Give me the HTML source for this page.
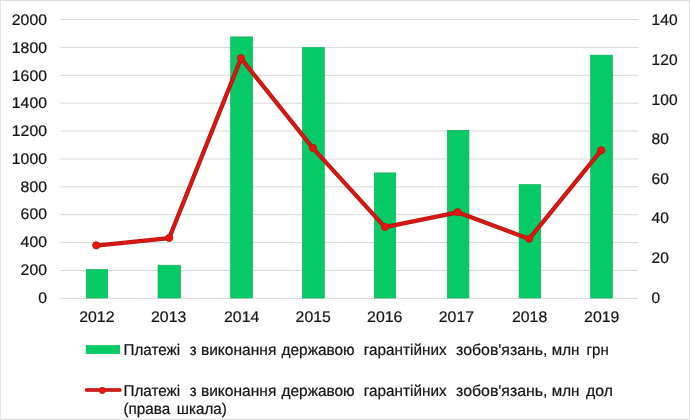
<!DOCTYPE html>
<html lang="uk"><head><meta charset="utf-8"><title>Платежі з виконання державою гарантійних зобов'язань</title>
<style>
html,body{margin:0;padding:0;background:#fff;}
body{width:690px;height:420px;overflow:hidden;position:relative;}
svg{position:absolute;left:0;top:0;display:block;}
text{font-family:"Liberation Sans",Arial,sans-serif;fill:#141414;stroke:#141414;stroke-width:0.22px;text-rendering:geometricPrecision;}
</style></head><body>
<svg width="690" height="420" viewBox="0 0 690 420">
<rect x="0" y="0" width="690" height="420" fill="#ffffff"/>
<rect x="0.5" y="0.5" width="689" height="419" fill="none" stroke="#dcdcdc" stroke-width="1"/>
<line x1="0.5" y1="1" x2="0.5" y2="419" stroke="#e6e6e6" stroke-width="1"/>

<g stroke="#d8d8d8" stroke-width="1">
<line x1="60.6" y1="298.40" x2="638.3" y2="298.40"/>
<line x1="60.6" y1="270.51" x2="638.3" y2="270.51"/>
<line x1="60.6" y1="242.62" x2="638.3" y2="242.62"/>
<line x1="60.6" y1="214.73" x2="638.3" y2="214.73"/>
<line x1="60.6" y1="186.84" x2="638.3" y2="186.84"/>
<line x1="60.6" y1="158.95" x2="638.3" y2="158.95"/>
<line x1="60.6" y1="131.06" x2="638.3" y2="131.06"/>
<line x1="60.6" y1="103.17" x2="638.3" y2="103.17"/>
<line x1="60.6" y1="75.28" x2="638.3" y2="75.28"/>
<line x1="60.6" y1="47.39" x2="638.3" y2="47.39"/>
<line x1="60.6" y1="19.50" x2="638.3" y2="19.50"/>
</g>
<g fill="#05ca66" stroke="#10a858" stroke-width="0.6">
<rect x="86.25" y="269.40" width="21.43" height="28.60"/>
<rect x="158.00" y="265.20" width="22.65" height="32.80"/>
<rect x="230.60" y="36.90" width="22.05" height="261.10"/>
<rect x="302.34" y="47.50" width="22.01" height="250.50"/>
<rect x="374.34" y="172.90" width="21.42" height="125.10"/>
<rect x="447.23" y="130.40" width="21.72" height="167.60"/>
<rect x="519.10" y="184.50" width="21.67" height="113.50"/>
<rect x="590.63" y="55.10" width="21.90" height="242.90"/>
</g>
<polyline points="96.20,245.55 169.20,238.15 241.00,58.35 312.90,148.15 384.90,227.15 457.60,212.35 529.20,238.95 601.20,150.45" fill="none" stroke="#b61612" stroke-width="4.25" stroke-linejoin="round" stroke-linecap="round"/>
<polyline points="96.20,245.55 169.20,238.15 241.00,58.35 312.90,148.15 384.90,227.15 457.60,212.35 529.20,238.95 601.20,150.45" fill="none" stroke="#d81815" stroke-width="2.6" stroke-linejoin="round" stroke-linecap="round"/>
<circle cx="96.20" cy="245.35" r="3.6" fill="#ea1411" stroke="#b8200f" stroke-width="1"/>
<circle cx="169.20" cy="237.95" r="3.6" fill="#ea1411" stroke="#b8200f" stroke-width="1"/>
<circle cx="241.00" cy="58.15" r="3.6" fill="#ea1411" stroke="#b8200f" stroke-width="1"/>
<circle cx="312.90" cy="147.95" r="3.6" fill="#ea1411" stroke="#b8200f" stroke-width="1"/>
<circle cx="384.90" cy="226.95" r="3.6" fill="#ea1411" stroke="#b8200f" stroke-width="1"/>
<circle cx="457.60" cy="212.15" r="3.6" fill="#ea1411" stroke="#b8200f" stroke-width="1"/>
<circle cx="529.20" cy="238.75" r="3.6" fill="#ea1411" stroke="#b8200f" stroke-width="1"/>
<circle cx="601.20" cy="150.25" r="3.6" fill="#ea1411" stroke="#b8200f" stroke-width="1"/>
<text x="38.17" y="302.50" font-size="15.4" textLength="8.78" lengthAdjust="spacingAndGlyphs">0</text>
<text x="20.61" y="274.78" font-size="15.4" textLength="26.34" lengthAdjust="spacingAndGlyphs">200</text>
<text x="20.61" y="247.06" font-size="15.4" textLength="26.34" lengthAdjust="spacingAndGlyphs">400</text>
<text x="20.61" y="219.34" font-size="15.4" textLength="26.34" lengthAdjust="spacingAndGlyphs">600</text>
<text x="20.61" y="191.62" font-size="15.4" textLength="26.34" lengthAdjust="spacingAndGlyphs">800</text>
<text x="11.83" y="163.90" font-size="15.4" textLength="35.12" lengthAdjust="spacingAndGlyphs">1000</text>
<text x="11.83" y="136.18" font-size="15.4" textLength="35.12" lengthAdjust="spacingAndGlyphs">1200</text>
<text x="11.83" y="108.46" font-size="15.4" textLength="35.12" lengthAdjust="spacingAndGlyphs">1400</text>
<text x="11.83" y="80.74" font-size="15.4" textLength="35.12" lengthAdjust="spacingAndGlyphs">1600</text>
<text x="11.83" y="53.02" font-size="15.4" textLength="35.12" lengthAdjust="spacingAndGlyphs">1800</text>
<text x="11.83" y="25.30" font-size="15.4" textLength="35.12" lengthAdjust="spacingAndGlyphs">2000</text>
<text x="651.60" y="302.50" font-size="15.4" textLength="8.65" lengthAdjust="spacingAndGlyphs">0</text>
<text x="651.60" y="262.91" font-size="15.4" textLength="17.30" lengthAdjust="spacingAndGlyphs">20</text>
<text x="651.60" y="223.32" font-size="15.4" textLength="17.30" lengthAdjust="spacingAndGlyphs">40</text>
<text x="651.60" y="183.73" font-size="15.4" textLength="17.30" lengthAdjust="spacingAndGlyphs">60</text>
<text x="651.60" y="144.14" font-size="15.4" textLength="17.30" lengthAdjust="spacingAndGlyphs">80</text>
<text x="651.60" y="104.55" font-size="15.4" textLength="25.95" lengthAdjust="spacingAndGlyphs">100</text>
<text x="651.60" y="64.96" font-size="15.4" textLength="25.95" lengthAdjust="spacingAndGlyphs">120</text>
<text x="651.60" y="25.37" font-size="15.4" textLength="25.95" lengthAdjust="spacingAndGlyphs">140</text>
<text x="79.20" y="322.30" font-size="15.4" textLength="35.29" lengthAdjust="spacingAndGlyphs">2012</text>
<text x="151.06" y="322.30" font-size="15.4" textLength="35.29" lengthAdjust="spacingAndGlyphs">2013</text>
<text x="224.03" y="322.30" font-size="15.4" textLength="35.29" lengthAdjust="spacingAndGlyphs">2014</text>
<text x="295.61" y="322.30" font-size="15.4" textLength="35.29" lengthAdjust="spacingAndGlyphs">2015</text>
<text x="367.11" y="322.30" font-size="15.4" textLength="35.29" lengthAdjust="spacingAndGlyphs">2016</text>
<text x="438.76" y="322.30" font-size="15.4" textLength="35.29" lengthAdjust="spacingAndGlyphs">2017</text>
<text x="511.96" y="322.30" font-size="15.4" textLength="35.29" lengthAdjust="spacingAndGlyphs">2018</text>
<text x="584.11" y="322.30" font-size="15.4" textLength="35.29" lengthAdjust="spacingAndGlyphs">2019</text>
<rect x="85.8" y="345.1" width="34.2" height="8.8" fill="#05ca66"/>
<text y="355.0" font-size="15.6"><tspan x="123.53" textLength="56.67" lengthAdjust="spacingAndGlyphs">Платежі</tspan> <tspan x="189.65" textLength="6.82" lengthAdjust="spacingAndGlyphs">з</tspan> <tspan x="200.92" textLength="75.42" lengthAdjust="spacingAndGlyphs">виконання</tspan> <tspan x="281.55" textLength="73.02" lengthAdjust="spacingAndGlyphs">державою</tspan> <tspan x="363.83" textLength="82.77" lengthAdjust="spacingAndGlyphs">гарантійних</tspan> <tspan x="456.13" textLength="91.31" lengthAdjust="spacingAndGlyphs">зобов'язань,</tspan> <tspan x="551.84" textLength="27.65" lengthAdjust="spacingAndGlyphs">млн</tspan> <tspan x="586.55" textLength="22.14" lengthAdjust="spacingAndGlyphs">грн</tspan></text>
<line x1="86.6" y1="390.0" x2="119.9" y2="390.0" stroke="#b61612" stroke-width="3.7" stroke-linecap="round"/>
<line x1="86.6" y1="390.0" x2="119.9" y2="390.0" stroke="#d81815" stroke-width="2.3" stroke-linecap="round"/>
<circle cx="102.3" cy="390.4" r="3.1" fill="#ea1411" stroke="#b8200f" stroke-width="0.9"/>
<text y="396.0" font-size="15.6"><tspan x="123.53" textLength="56.67" lengthAdjust="spacingAndGlyphs">Платежі</tspan> <tspan x="189.65" textLength="6.82" lengthAdjust="spacingAndGlyphs">з</tspan> <tspan x="200.92" textLength="75.42" lengthAdjust="spacingAndGlyphs">виконання</tspan> <tspan x="281.55" textLength="73.02" lengthAdjust="spacingAndGlyphs">державою</tspan> <tspan x="363.83" textLength="82.77" lengthAdjust="spacingAndGlyphs">гарантійних</tspan> <tspan x="456.13" textLength="91.31" lengthAdjust="spacingAndGlyphs">зобов'язань,</tspan> <tspan x="551.84" textLength="27.65" lengthAdjust="spacingAndGlyphs">млн</tspan> <tspan x="586.05" textLength="26.9" lengthAdjust="spacingAndGlyphs">дол</tspan></text>
<text y="414.1" font-size="15.6"><tspan x="123.54" textLength="46.66" lengthAdjust="spacingAndGlyphs">(права</tspan> <tspan x="176.84" textLength="49.91" lengthAdjust="spacingAndGlyphs">шкала)</tspan></text>
</svg></body></html>
